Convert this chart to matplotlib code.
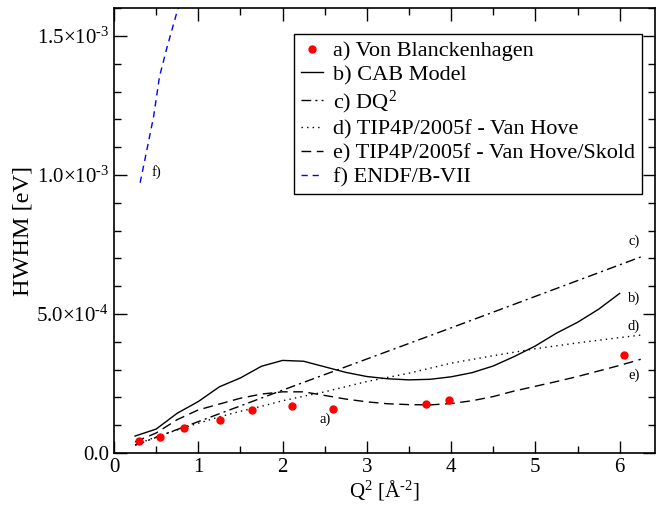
import matplotlib
matplotlib.use('Agg')
import matplotlib.pyplot as plt
from matplotlib.ticker import MultipleLocator, FixedLocator

plt.rcParams.update({
    'font.family': 'Liberation Serif',
    'mathtext.fontset': 'custom',
    'mathtext.rm': 'Liberation Serif',
    'mathtext.it': 'Liberation Serif:italic',
})

# Data
# a) Von Blanckenhagen (measured points)
q2_a = [0.30, 0.55, 0.83, 1.26, 1.64, 2.11, 2.60, 3.70, 3.97, 6.05]
hw_a = [4.4e-5, 5.6e-5, 9.0e-5, 1.18e-4, 1.56e-4, 1.69e-4, 1.60e-4, 1.77e-4, 1.90e-4, 3.53e-4]

# b) CAB Model
q2_b = [0.25, 0.5, 0.75, 1.0, 1.25, 1.5, 1.75, 2.0, 2.25, 2.5, 2.75, 3.0, 3.25, 3.5,
        3.75, 4.0, 4.25, 4.5, 4.75, 5.0, 5.25, 5.5, 5.75, 6.0]
hw_b = [6.1e-5, 8.6e-5, 1.43e-4, 1.85e-4, 2.38e-4, 2.70e-4, 3.12e-4, 3.33e-4, 3.30e-4,
        3.10e-4, 2.90e-4, 2.75e-4, 2.67e-4, 2.63e-4, 2.65e-4, 2.74e-4, 2.89e-4, 3.13e-4,
        3.47e-4, 3.85e-4, 4.31e-4, 4.70e-4, 5.17e-4, 5.74e-4]

# c) DQ^2
q2_c = [0.25, 2.0, 4.0, 6.25]
hw_c = [2.8e-5, 2.26e-4, 4.50e-4, 7.05e-4]

# d) TIP4P/2005f - Van Hove
q2_d = [0.25, 0.5, 0.75, 1.0, 1.25, 1.5, 1.75, 2.0, 2.5, 3.0, 3.5, 4.0, 4.5, 5.0,
        5.5, 6.0, 6.25]
hw_d = [2.9e-5, 5.8e-5, 8.3e-5, 1.07e-4, 1.30e-4, 1.50e-4, 1.68e-4, 1.88e-4, 2.20e-4,
        2.57e-4, 2.87e-4, 3.23e-4, 3.50e-4, 3.75e-4, 3.96e-4, 4.15e-4, 4.24e-4]

# e) TIP4P/2005f - Van Hove/Skold
q2_e = [0.25, 0.5, 0.75, 1.0, 1.25, 1.5, 1.75, 2.0, 2.25, 2.5, 2.75, 3.0, 3.25, 3.5,
        3.75, 4.0, 4.25, 4.5, 4.75, 5.0, 5.25, 5.5, 5.75, 6.0, 6.25]
hw_e = [4.0e-5, 7.2e-5, 1.20e-4, 1.55e-4, 1.76e-4, 1.97e-4, 2.12e-4, 2.20e-4, 2.20e-4,
        2.07e-4, 1.94e-4, 1.84e-4, 1.77e-4, 1.74e-4, 1.73e-4, 1.78e-4, 1.88e-4, 2.03e-4,
        2.23e-4, 2.40e-4, 2.57e-4, 2.75e-4, 2.95e-4, 3.15e-4, 3.37e-4]

# f) ENDF/B-VII
q2_f = [0.31, 0.39, 0.47, 0.54, 0.63, 0.76, 0.85]
hw_f = [9.72e-4, 1.09e-3, 1.21e-3, 1.354e-3, 1.46e-3, 1.60e-3, 1.69e-3]

ytick_vals = [0.0, 5e-4, 1e-3, 1.5e-3]
ytick_labels = ['0.0', '5.0\u00d710$^{\u2010 4}$', '1.0\u00d710$^{\u2010 3}$', '1.5\u00d710$^{\u2010 3}$']

# Plot
fig = plt.figure(figsize=(6.59, 5.07), dpi=100)
ax = fig.add_axes([0.173, 0.1065, 0.821, 0.8775])

lw = 1.0
ax.plot(q2_a, hw_a, 'o', color='red', ms=5, label='a) Von Blanckenhagen', zorder=5)
ax.plot(q2_b, hw_b, '-', color='black', lw=lw, label='b) CAB Model')
ax.plot(q2_c, hw_c, color='black', lw=lw, dashes=[7, 3, 1.5, 3], label=r'c) DQ$^{2}$')
ax.plot(q2_d, hw_d, color='black', lw=lw, dashes=[1, 3], label='d) TIP4P/2005f - Van Hove')
ax.plot(q2_e, hw_e, color='black', lw=lw, dashes=[7, 4], label='e) TIP4P/2005f - Van Hove/Skold')
ax.plot(q2_f, hw_f, color='blue', lw=lw, dashes=[4.5, 3.5], label='f) ENDF/B-VII')

# curve tags
tag_font = {'fontsize': 10.5}
ax.text(0.5, 1.01e-3, 'f)', ha='center', va='center', fontdict=tag_font)
ax.text(6.17, 7.63e-4, 'c)', ha='center', va='center', fontdict=tag_font)
ax.text(6.17, 5.58e-4, 'b)', ha='center', va='center', fontdict=tag_font)
ax.text(6.17, 4.57e-4, 'd)', ha='center', va='center', fontdict=tag_font)
ax.text(6.17, 2.80e-4, 'e)', ha='center', va='center', fontdict=tag_font)
ax.text(2.51, 1.22e-4, 'a)', ha='center', va='center', fontdict=tag_font)

ax.set_xlim(0, 6.42)
ax.set_ylim(0, 1.6e-3)
ax.xaxis.set_major_locator(MultipleLocator(1))
ax.xaxis.set_minor_locator(MultipleLocator(0.5))
ax.yaxis.set_major_locator(FixedLocator(ytick_vals))
ax.set_yticklabels(ytick_labels)
ax.yaxis.set_minor_locator(MultipleLocator(1e-4))
ax.tick_params(which='both', direction='in', top=True, right=True, labelsize=15)
ax.tick_params(which='major', length=9, width=1)
ax.tick_params(which='minor', length=5, width=1)
for s in ax.spines.values():
    s.set_linewidth(1.2)

ax.set_xlabel('Q$^{2}$ [\u00c5$^{\u2010 2}$]', fontsize=15, labelpad=1)
ax.set_ylabel('HWHM [eV]', fontsize=17.5, labelpad=2)

leg = ax.legend(loc='upper left', bbox_to_anchor=(0.333, 0.9416), borderaxespad=0,
                fontsize=16, frameon=True, fancybox=False, framealpha=1,
                handlelength=1.0, handletextpad=0.45, labelspacing=0.15,
                borderpad=0.3, numpoints=1)
leg.get_frame().set_edgecolor('black')
leg.get_frame().set_linewidth(1.0)

plt.savefig('out.png', dpi=100)
